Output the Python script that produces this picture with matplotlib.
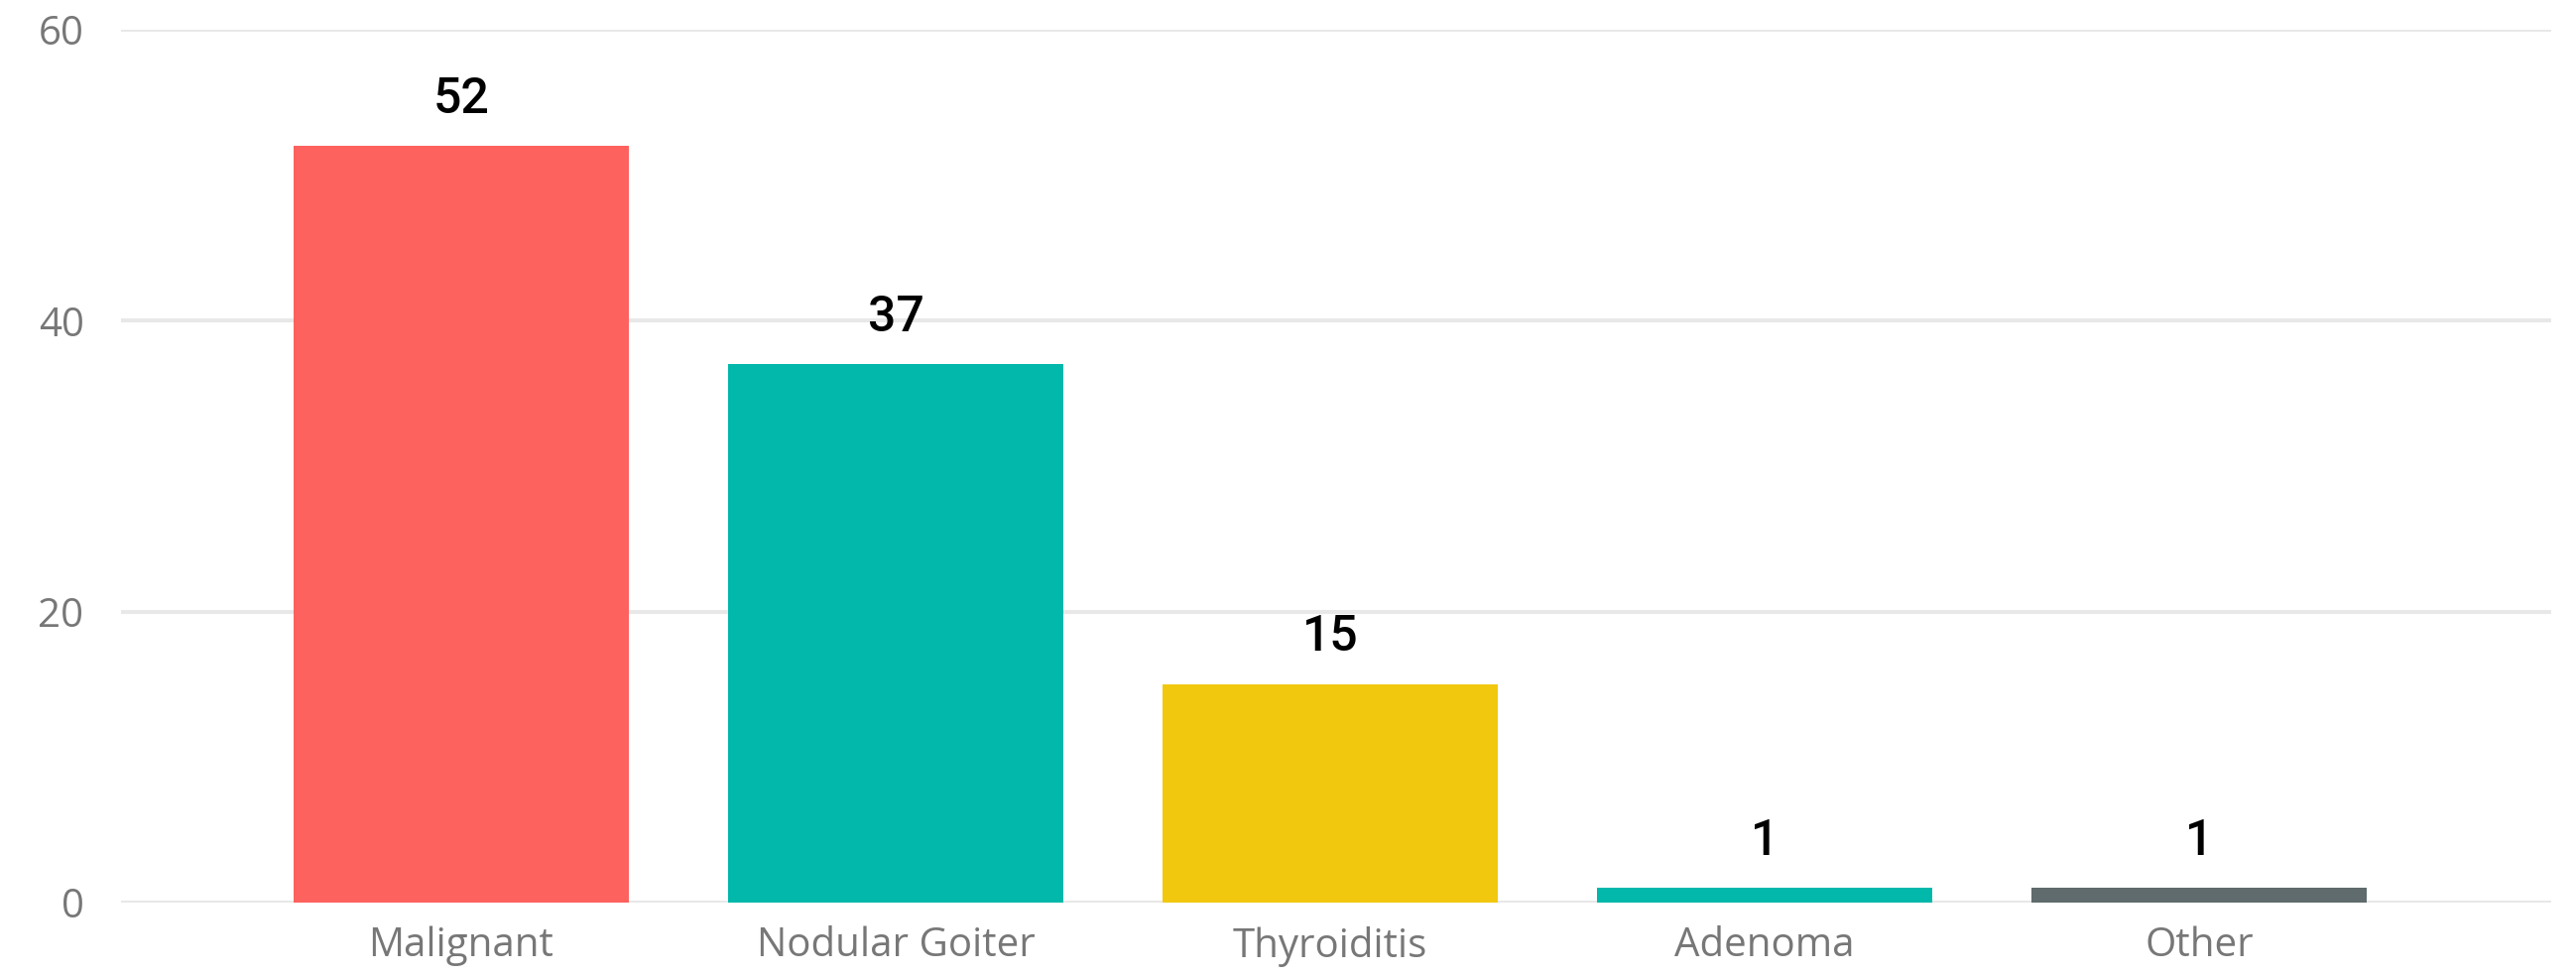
import matplotlib
matplotlib.use("Agg")
import matplotlib.pyplot as plt

categories = ["Malignant", "Nodular Goiter", "Thyroiditis", "Adenoma", "Other"]
values = [52, 37, 15, 1, 1]
colors = ["#FD625E", "#01B8AA", "#F2C80F", "#01B8AA", "#5F6B6D"]
yticks = [0, 20, 40, 60]

W, H = 2597, 983
fig = plt.figure(figsize=(W / 100, H / 100), dpi=100)
ax = fig.add_axes([122 / W, 1 - 910 / H, (2572 - 122) / W, (910 - 30) / H])

x = list(range(len(categories)))
bars = ax.bar(x, values, width=0.772, color=colors, zorder=3)

ax.set_xlim(-0.783, 4.81)
ax.set_ylim(0, 60)
ax.set_yticks(yticks)
ax.set_xticks(x)
ax.set_xticklabels(categories)

for s in ax.spines.values():
    s.set_visible(False)
ax.grid(axis="y", color="#E8E8E8", linewidth=2.9, zorder=0)
ax.set_axisbelow(True)
ax.tick_params(axis="both", length=0, colors="#777777", labelsize=29)
ax.tick_params(axis="y", pad=27)
ax.tick_params(axis="x", pad=17)
for lab in ax.get_xticklabels() + ax.get_yticklabels():
    lab.set_family(["Open Sans", "DejaVu Sans"])

labels = ax.bar_label(bars, labels=[str(v) for v in values], padding=17,
                      fontsize=36, color="black", fontweight="medium")
for t in labels:
    t.set_family(["Roboto", "DejaVu Sans"])

fig.savefig("out.png", dpi=100)
